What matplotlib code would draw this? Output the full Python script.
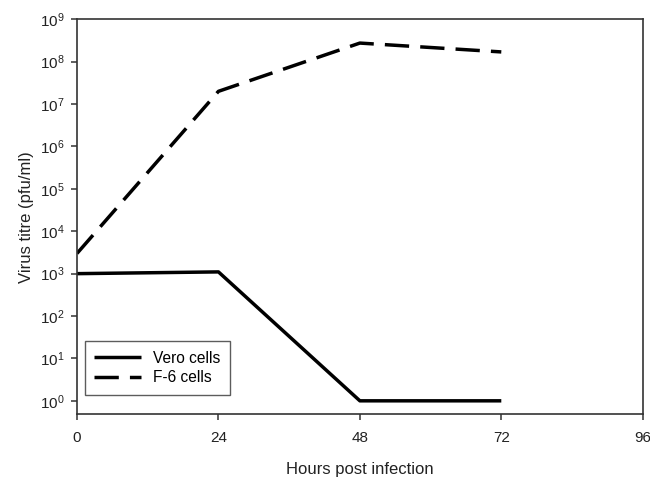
import matplotlib
matplotlib.use("Agg")
import matplotlib.pyplot as plt
from matplotlib.ticker import LogLocator, NullLocator, FixedLocator

plt.rcParams['font.family'] = ['Liberation Sans', 'DejaVu Sans']

hours = [0, 24, 48, 72]
vero = [1000, 1100, 1, 1]
f6 = [3000, 2.0e7, 2.75e8, 1.7e8]
x_ticks = [0, 24, 48, 72, 96]

fig = plt.figure(figsize=(6.5, 4.79), dpi=100)
ax = fig.add_axes([0.1185, 0.135, 0.8703, 0.8247])

ax.plot(hours, vero, color='black', lw=2.5, solid_capstyle='butt', label='Vero cells')
ax.plot(hours, f6, color='black', lw=2.5, dashes=(7, 3.2), label='F-6 cells')

ax.set_yscale('log')
ax.set_xlim(0, 96)
ax.set_ylim(0.48, 1e9)
ax.xaxis.set_major_locator(FixedLocator(x_ticks))
ax.yaxis.set_major_locator(LogLocator(base=10, numticks=20))
ax.yaxis.set_minor_locator(NullLocator())

for s in ax.spines.values():
    s.set_linewidth(1.2)
    s.set_color('#333333')
ax.tick_params(direction='out', length=4, width=1.1, labelsize=11, color='#333333',
               labelcolor='#222222', pad=5)
ax.tick_params(axis='x', pad=8)

ax.set_xlabel('Hours post infection', fontsize=12, labelpad=12, color='#222222')
ax.set_ylabel('Virus titre (pfu/ml)', fontsize=12, labelpad=4, color='#222222')

leg = ax.legend(loc='lower left', bbox_to_anchor=(0.0, 0.03), fontsize=11.2,
                frameon=True, fancybox=False, edgecolor='#333333',
                handlelength=3.0, borderpad=0.6, labelspacing=0.3)
leg.get_frame().set_linewidth(1.0)

fig.savefig('out.png', dpi=100)
